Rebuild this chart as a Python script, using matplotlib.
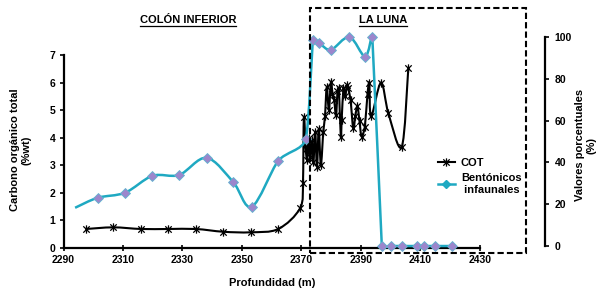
import matplotlib
matplotlib.use("Agg")
import matplotlib.pyplot as plt
from matplotlib.path import Path
from matplotlib.patches import PathPatch, Rectangle
from matplotlib.lines import Line2D
import numpy as np

plt.rcParams['font.family'] = ['Liberation Sans', 'DejaVu Sans']
plt.rcParams['font.weight'] = 'bold'

# ---- data ----
cot_depth = [2297.6, 2306.7, 2316.1, 2325.2, 2334.5, 2343.7, 2352.9, 2362.2,
             2369.5, 2370.5, 2370.8, 2371.4, 2371.9, 2372.4, 2372.9, 2373.5,
             2374.0, 2374.6, 2375.2, 2375.8, 2376.5, 2377.3, 2377.9, 2378.5,
             2379.2, 2379.9, 2380.4, 2381.0, 2381.6, 2382.1, 2382.6, 2383.2,
             2383.5, 2384.1, 2384.7, 2385.2, 2385.7, 2386.5, 2387.4, 2388.1,
             2388.8, 2389.5, 2390.2, 2391.3, 2392.2, 2392.8, 2393.4, 2396.7,
             2399.2, 2403.7, 2405.9]
cot = [0.68, 0.74, 0.68, 0.68, 0.68, 0.58, 0.56, 0.68,
       1.43, 2.36, 4.76, 3.6, 3.2, 4.0, 3.3, 3.9,
       3.1, 4.2, 2.95, 4.3, 3.0, 4.2, 4.77, 5.85,
       5.0, 6.04, 5.6, 5.37, 4.82, 5.7, 5.8, 4.04,
       4.64, 5.8, 5.5, 5.9, 5.8, 5.37, 4.34, 4.8,
       5.15, 4.6, 4.04, 4.4, 5.6, 5.98, 4.77, 6.0,
       4.89, 3.67, 6.52]

ben_depth = [2293.9, 2301.5, 2310.7, 2319.9, 2328.9, 2338.1, 2347.1, 2353.3,
             2362.2, 2371.4, 2373.8, 2376.0, 2379.9, 2386.1, 2391.4, 2393.8,
             2397.0, 2400.0, 2403.7, 2408.9, 2411.3, 2415.0, 2420.5]
ben = [18.3, 23.1, 25.5, 33.6, 34.0, 42.2, 30.5, 18.8,
       40.8, 51.0, 98.6, 97.0, 93.8, 100.0, 90.6, 100.0,
       0, 0, 0, 0, 0, 0, 0]

x_ticks = [2290, 2310, 2330, 2350, 2370, 2390, 2410, 2430]
left_ticks = [0, 1, 2, 3, 4, 5, 6, 7]
right_ticks = [0, 20, 40, 60, 80, 100]

CYAN = '#1FA9C2'


def smooth_path(a, xs, ys):
    # excel-like smoothed line, built in pixel space so corners don't overshoot
    tr = a.transData
    p = tr.transform(np.column_stack([xs, ys]).astype(float))
    n = len(p)
    tang = []
    for i in range(n):
        p0 = p[i - 1] if i > 0 else p[i]
        p2 = p[i + 1] if i + 1 < n else p[i]
        m = (p2 - p0) / 6.0
        lim = []
        if i > 0:
            lim.append(np.hypot(*(p[i] - p[i - 1])) / 3.0)
        if i + 1 < n:
            lim.append(np.hypot(*(p[i + 1] - p[i])) / 3.0)
        L = np.hypot(*m)
        if L > 0 and lim and L > min(lim):
            m = m * min(lim) / L
        tang.append(m)
    verts = [p[0]]
    codes = [Path.MOVETO]
    for i in range(n - 1):
        verts += [p[i] + tang[i], p[i + 1] - tang[i + 1], p[i + 1]]
        codes += [Path.CURVE4] * 3
    verts = tr.inverted().transform(np.array(verts))
    return Path(verts, codes)


star = Path([(-1, -1), (1, 1), (-1, 1), (1, -1), (0, -1.3), (0, 1.3)],
            [Path.MOVETO, Path.LINETO, Path.MOVETO, Path.LINETO,
             Path.MOVETO, Path.LINETO])

fig = plt.figure(figsize=(6, 2.9), dpi=100)
ax = fig.add_axes([63.5 / 600, 1 - 247.7 / 290, (545 - 63.5) / 600, (247.7 - 37) / 290])
ax2 = ax.twinx()

ax.set_xlim(2290, 2451.85)
ax.set_ylim(0, 7.66)
ax2.set_ylim(-0.8, 100)

# COT on left axis
ax.add_patch(PathPatch(smooth_path(ax, cot_depth, cot), fill=False,
                       edgecolor='black', lw=1.5, zorder=2))
ax.plot(cot_depth, cot, ls='none', marker=star, ms=6, mec='black',
        mew=0.9, zorder=3)

# benthic infaunal on right axis
ax2.add_patch(PathPatch(smooth_path(ax2, ben_depth, ben), fill=False,
                        edgecolor=CYAN, lw=1.8, zorder=2, clip_on=False))
ax2.plot(ben_depth[1:], ben[1:], ls='none', marker='D', ms=5.5,
         mfc='#9C86CC', mec='#5FB3D0', mew=0.6, zorder=3, clip_on=False)

for a in (ax, ax2):
    for s in a.spines.values():
        s.set_visible(False)
    a.set_facecolor('none')

ax.spines['left'].set_visible(True)
ax.spines['left'].set_linewidth(1.6)
ax.spines['left'].set_bounds(0, 7)
ax.spines['bottom'].set_visible(True)
ax.spines['bottom'].set_linewidth(1.6)
ax.spines['bottom'].set_bounds(2290, 2430)
ax2.spines['right'].set_visible(True)
ax2.spines['right'].set_linewidth(1.6)
ax2.spines['right'].set_bounds(0, 100)

ax.set_xticks(x_ticks)
ax.set_yticks(left_ticks)
ax2.set_yticks(right_ticks)
ax.tick_params(axis='x', direction='inout', length=4, width=1.2, labelsize=7.5, pad=3)
ax.tick_params(axis='y', direction='out', length=3, width=1.2, labelsize=7.5, pad=3)
ax2.tick_params(axis='y', direction='out', length=3, width=1.2, labelsize=7.5, pad=4)

fig.text(272 / 600, 1 - 283 / 290, 'Profundidad (m)', ha='center', va='center',
         fontsize=8)
fig.text(21 / 600, 1 - 150 / 290, 'Carbono orgánico total\n(%wt)', ha='center',
         va='center', rotation=90, fontsize=8, linespacing=1.2)
fig.text(586 / 600, 1 - 145 / 290, 'Valores porcentuales\n(%)', ha='center',
         va='center', rotation=90, fontsize=8, linespacing=1.2)

t1 = fig.text(188 / 600, 1 - 20 / 290, 'COLÓN INFERIOR', ha='center', va='center',
              fontsize=8)
t2 = fig.text(383 / 600, 1 - 20 / 290, 'LA LUNA', ha='center', va='center',
              fontsize=8)

# dashed box around La Luna
fig.patches.append(Rectangle((310 / 600, 1 - 252.5 / 290), 216 / 600, 244.5 / 290,
                             transform=fig.transFigure, fill=False, ec='black',
                             lw=1.5, ls=(0, (3, 1.5))))

handles = [Line2D([], [], color='black', lw=1.5, marker=star, ms=6, mew=0.9),
           Line2D([], [], color=CYAN, lw=1.8, marker='D', ms=4,
                  mfc=CYAN, mec=CYAN)]
fig.legend(handles, ['COT', 'Bentónicos\n infaunales'], loc='upper left',
           bbox_to_anchor=(432 / 600, 1 - 152 / 290), frameon=False,
           fontsize=8, handlelength=1.6, handletextpad=0.5, labelspacing=0.5,
           borderpad=0)

# underline the unit titles
fig.canvas.draw()
r = fig.canvas.get_renderer()
for t in (t1, t2):
    bb = t.get_window_extent(r)
    y = (bb.y0 - 1) / fig.bbox.height
    fig.add_artist(Line2D([bb.x0 / fig.bbox.width, bb.x1 / fig.bbox.width], [y, y],
                          transform=fig.transFigure, color='black', lw=0.9))

fig.savefig('out.png', dpi=100)
